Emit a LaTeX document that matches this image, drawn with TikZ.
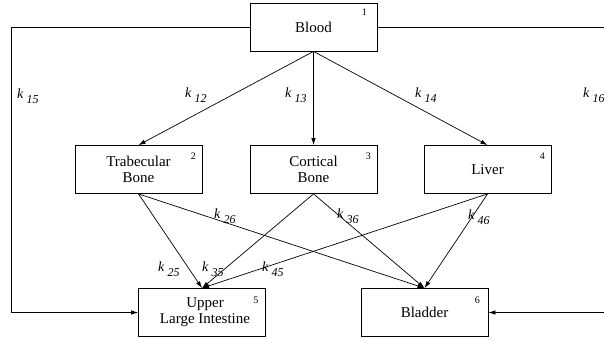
\documentclass[tikz,border=0pt]{standalone}
\usepackage{fontspec}
\setmainfont{Liberation Serif}
\usetikzlibrary{arrows.meta}
\newcommand{\kk}[1]{\textit{k}\hspace{3pt}\raisebox{-5pt}{\fontsize{12}{12}\selectfont\textit{#1}}}
\begin{document}
\begin{tikzpicture}[x=1pt,y=-1pt,
  box/.style={draw,line width=0.8pt,minimum width=127pt,minimum height=48pt,inner sep=0pt,align=center,font=\fontsize{15}{16}\selectfont},
  num/.style={font=\fontsize{10}{10}\selectfont,inner sep=0pt},
  klab/.style={anchor=base west,inner sep=0pt,font=\fontsize{14}{14}\selectfont},
  arr/.style={line width=0.7pt,-{Latex[length=7pt,width=4.5pt]}},
  ln/.style={line width=0.7pt}]
\useasboundingbox (0,0) rectangle (604,341);
\node[box] (blood) at (313.5,27) {Blood};
\node[box] (trab) at (138.5,169.5) {Trabecular\\Bone};
\node[box] (cort) at (313.5,169.5) {Cortical\\Bone};
\node[box] (liver) at (487.5,169.5) {Liver};
\node[box] (uli) at (202,312.5) {\hspace{6pt}Upper\\\hspace{6pt}Large Intestine};
\node[box] (blad) at (424.5,312.5) {Bladder};
\node[num] (n1) at ([shift={(-13,10)}]blood.north east) {1};
\node[num] (n2) at ([shift={(-9,11)}]trab.north east) {2};
\node[num] (n3) at ([shift={(-9,11)}]cort.north east) {3};
\node[num] (n4) at ([shift={(-9,11)}]liver.north east) {4};
\node[num] (n5) at ([shift={(-10,12)}]uli.north east) {5};
\node[num] (n6) at ([shift={(-11,12)}]blad.north east) {6};
\coordinate (lt) at (11.5,27);
\coordinate (lb) at (11.5,312.5);
\coordinate (rt) at (607,27);
\coordinate (rb) at (607,312.5);
\draw[ln] (blood.west) -- (lt) -- (lb);
\draw[arr] (lb) -- (uli.west);
\draw[ln] (blood.east) -- (rt) -- (rb);
\draw[arr] (rb) -- (blad.east);
\draw[arr] (blood.south) -- (trab.north);
\draw[arr] (blood.south) -- (cort.north);
\draw[arr] (blood.south) -- (liver.north);
\draw[arr] (trab.south) -- (uli.north);
\draw[arr] (trab.south) -- (blad.north);
\draw[arr] (cort.south) -- (uli.north);
\draw[arr] (cort.south) -- (blad.north);
\draw[arr] (liver.south) -- (uli.north);
\draw[arr] (liver.south) -- (blad.north);
\node[klab] (k15) at (17,98) {\kk{15}};
\node[klab] (k12) at (185,97) {\kk{12}};
\node[klab] (k13) at (285,97) {\kk{13}};
\node[klab] (k14) at (415,97) {\kk{14}};
\node[klab] (k16) at (583,97) {\kk{16}};
\node[klab] (k26) at (214,218) {\kk{26}};
\node[klab] (k36) at (337,218) {\kk{36}};
\node[klab] (k46) at (468,219) {\kk{46}};
\node[klab] (k25) at (158,271) {\kk{25}};
\node[klab] (k35) at (202,271) {\kk{35}};
\node[klab] (k45) at (262,271) {\kk{45}};
\end{tikzpicture}
\end{document}
